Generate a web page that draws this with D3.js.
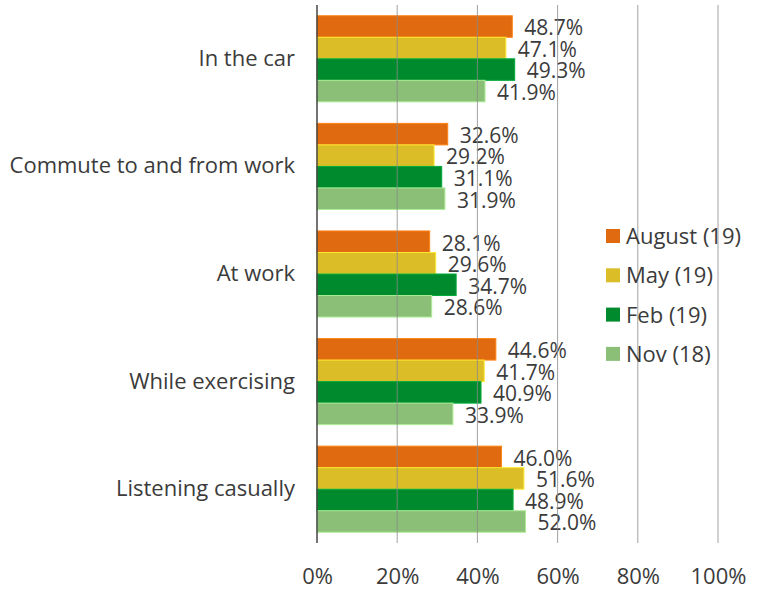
<!DOCTYPE html>
<html>
<head>
<meta charset="utf-8">
<script src="https://cdn.jsdelivr.net/npm/d3@7"></script>
<style>
  html, body { margin: 0; padding: 0; background: #fff; }
  svg text { font-family: "Open Sans", sans-serif; fill: #3b3b3b; }
</style>
</head>
<body>
<svg id="chart" width="764" height="590"></svg>
<script>
// Listening contexts, one group per row
const categories = ["In the car", "Commute to and from work", "At work", "While exercising", "Listening casually"];
const seriesNames = ["August (19)", "May (19)", "Feb (19)", "Nov (18)"];
const seriesColors = ["#df6a10", "#dbbd27", "#008a2e", "#8bbf78"];
const august = [48.7, 32.6, 28.1, 44.6, 46.0];
const may    = [47.1, 29.2, 29.6, 41.7, 51.6];
const feb    = [49.3, 31.1, 34.7, 40.9, 48.9];
const nov    = [41.9, 31.9, 28.6, 33.9, 52.0];
const tickValues = [0, 20, 40, 60, 80, 100];

const seriesValues = [august, may, feb, nov];
const FONT = "'Open Sans', sans-serif";
const TEXT = "#3b3b3b";

const svg = d3.select("#chart");
const margin = { top: 5, right: 46, bottom: 47, left: 317 };
const width = 764 - margin.left - margin.right;
const height = 590 - margin.top - margin.bottom;

const g = svg.append("g").attr("transform", `translate(${margin.left},${margin.top})`);

const x = d3.scaleLinear().domain([0, 100]).range([0, width]);
const y0 = d3.scaleBand().domain(categories).range([0, height]).paddingInner(0.2).paddingOuter(0.1);
const y1 = d3.scaleBand().domain(seriesNames).range([0, y0.bandwidth()]);

const rows = categories.map((c, i) => ({
  category: c,
  values: seriesNames.map((s, j) => ({ series: s, color: seriesColors[j], value: seriesValues[j][i] }))
}));

// Bars
const groups = g.selectAll("g.group").data(rows).join("g")
  .attr("class", "group")
  .attr("transform", d => `translate(0,${y0(d.category)})`);

groups.selectAll("rect").data(d => d.values).join("rect")
  .attr("x", 0)
  .attr("y", d => y1(d.series))
  .attr("width", d => x(d.value))
  .attr("height", y1.bandwidth())
  .attr("fill", d => d.color)
  .attr("stroke", d => d3.color(d.color).brighter(0.6))
  .attr("stroke-width", 1);

// Value labels
groups.selectAll("text").data(d => d.values).join("text")
  .attr("x", d => x(d.value) + 12)
  .attr("y", d => y1(d.series) + y1.bandwidth() / 2 + 1.5)
  .attr("dy", "0.35em")
  .attr("font-size", 21)
  .text(d => d.value.toFixed(1) + "%");

// Vertical gridlines over the bars
g.selectAll("line.grid").data(tickValues.filter(v => v > 0)).join("line")
  .attr("class", "grid")
  .attr("x1", d => x(d)).attr("x2", d => x(d))
  .attr("y1", 0).attr("y2", height)
  .attr("stroke", "#8a8a8a")
  .attr("stroke-opacity", 0.8)
  .attr("stroke-width", 1);

// Category axis line
g.append("line")
  .attr("x1", 0).attr("x2", 0)
  .attr("y1", 0).attr("y2", height)
  .attr("stroke", "#444")
  .attr("stroke-width", 1.5);

// X axis tick labels
const xAxis = d3.axisBottom(x).tickValues(tickValues).tickFormat(d => d + "%").tickSize(0).tickPadding(25);
const xg = g.append("g").attr("transform", `translate(0,${height})`).call(xAxis);
xg.select(".domain").remove();
xg.selectAll("text").attr("font-size", 22).attr("fill", TEXT).attr("font-family", FONT);

// Category labels
const yAxis = d3.axisLeft(y0).tickSize(0).tickPadding(22);
const yg = g.append("g").call(yAxis);
yg.select(".domain").remove();
yg.selectAll("text").attr("font-size", 22).attr("fill", TEXT).attr("font-family", FONT);

// Legend
const legend = svg.append("g").attr("transform", "translate(606,229)");
const items = legend.selectAll("g").data(seriesNames).join("g")
  .attr("transform", (d, i) => `translate(0,${i * 39.3})`);
items.append("rect").attr("width", 14).attr("height", 14).attr("fill", (d, i) => seriesColors[i]);
items.append("text").attr("x", 20).attr("y", 7).attr("dy", "0.36em").attr("font-size", 22).text(d => d);
</script>
</body>
</html>
